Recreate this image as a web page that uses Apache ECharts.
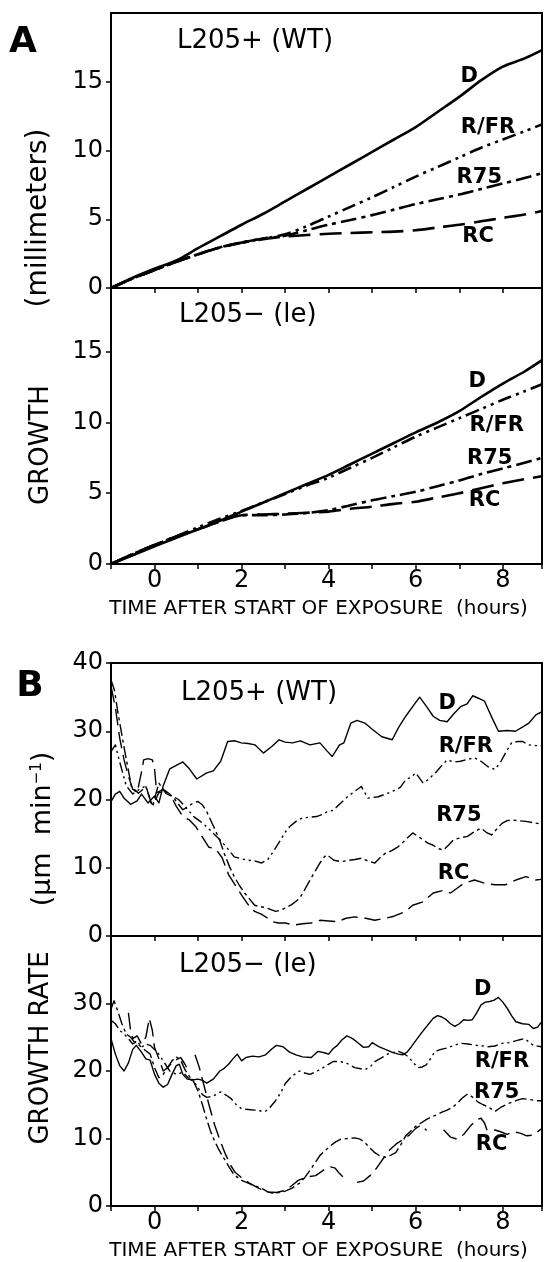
<!DOCTYPE html>
<html><head><meta charset="utf-8">
<script src="https://cdn.jsdelivr.net/npm/echarts@6/dist/echarts.min.js"></script>
<style>html,body{margin:0;padding:0;background:#fff}#c{width:545px;height:1262px}</style>
</head><body><div id="c"></div><script>
// ---- tick labels ----
const xLabelHours = [0, 2, 4, 6, 8];
const xAxisTitle = 'TIME AFTER START OF EXPOSURE  (hours)';

// ---- Panel A top: L205+ (WT) growth (mm) ----
const aTopD = [[-1,0],[-0.5,0.75],[0,1.4],[0.5,2.0],[1,2.9],[1.5,3.75],[2,4.6],[2.5,5.4],[3,6.3],[3.5,7.2],[4,8.1],[4.5,9.0],[5,9.9],[5.5,10.8],[6,11.7],[6.5,12.8],[7,13.9],[7.5,15.1],[8,16.1],[8.5,16.7],[8.9,17.3]];
const aTopRFR = [[-1,0],[-0.5,0.7],[0,1.3],[0.5,1.9],[1,2.45],[1.5,2.95],[2,3.3],[2.5,3.6],[3,3.9],[3.5,4.5],[4,5.2],[4.5,5.9],[5,6.6],[5.5,7.35],[6,8.1],[6.5,8.8],[7,9.5],[7.5,10.2],[8,10.8],[8.5,11.4],[8.9,11.9]];
const aTopR75 = [[-1,0],[-0.5,0.7],[0,1.3],[0.5,1.9],[1,2.45],[1.5,2.95],[2,3.3],[2.5,3.6],[3,3.8],[3.5,4.2],[4,4.6],[4.5,4.95],[5,5.3],[5.5,5.7],[6,6.1],[6.5,6.45],[7,6.8],[7.5,7.2],[8,7.6],[8.5,8.0],[8.9,8.35]];
const aTopRC = [[-1,0],[-0.5,0.7],[0,1.3],[0.5,1.9],[1,2.45],[1.5,2.95],[2,3.3],[2.5,3.55],[3,3.75],[3.5,3.85],[4,3.95],[4.5,4.0],[5,4.05],[5.5,4.1],[6,4.2],[6.5,4.4],[7,4.6],[7.5,4.85],[8,5.1],[8.5,5.35],[8.9,5.6]];

// ---- Panel A bottom: L205- (le) growth (mm) ----
const aBotD = [[-1,0],[-0.5,0.62],[0,1.25],[0.5,1.85],[1,2.45],[1.5,3.05],[2,3.7],[2.5,4.35],[3,5.0],[3.5,5.65],[4,6.3],[4.5,7.05],[5,7.8],[5.5,8.55],[6,9.3],[6.5,10.0],[7,10.8],[7.5,11.8],[8,12.75],[8.5,13.6],[8.9,14.4]];
const aBotRFR = [[-1,0],[-0.5,0.7],[0,1.35],[0.5,1.95],[1,2.6],[1.5,3.2],[2,3.75],[2.5,4.35],[3,4.95],[3.5,5.55],[4,6.1],[4.5,6.8],[5,7.5],[5.5,8.25],[6,9.0],[6.5,9.65],[7,10.3],[7.5,10.95],[8,11.6],[8.5,12.2],[8.9,12.7]];
const aBotR75 = [[-1,0],[-0.5,0.7],[0,1.35],[0.5,1.95],[1,2.45],[1.5,3.0],[2,3.45],[2.5,3.45],[3,3.5],[3.5,3.6],[4,3.8],[4.5,4.15],[5,4.5],[5.5,4.8],[6,5.1],[6.5,5.5],[7,5.9],[7.5,6.35],[8,6.75],[8.5,7.15],[8.9,7.5]];
const aBotRC = [[-1,0],[-0.5,0.7],[0,1.35],[0.5,1.95],[1,2.45],[1.5,3.0],[2,3.45],[2.5,3.5],[3,3.55],[3.5,3.62],[4,3.7],[4.5,3.9],[5,4.05],[5.5,4.25],[6,4.4],[6.5,4.7],[7,5.0],[7.5,5.35],[8,5.7],[8.5,6.0],[8.9,6.2]];

// ---- Panel B top: L205+ (WT) growth rate (um/min) ----
const bTopD = [[-1,19.7],[-0.9,20.8],[-0.8,21.2],[-0.7,20.2],[-0.55,19.3],[-0.4,19.8],[-0.3,20.8],[-0.15,19.5],[0,20.5],[0.1,19.5],[0.2,22.0],[0.35,24.5],[0.5,25.0],[0.65,25.5],[0.8,24.5],[0.97,23.0],[1.2,23.9],[1.35,24.2],[1.52,25.6],[1.68,28.5],[1.85,28.6],[1.99,28.3],[2.15,28.2],[2.31,28.0],[2.5,26.8],[2.7,27.8],[2.86,28.75],[3.0,28.4],[3.17,28.3],[3.35,28.6],[3.57,28.0],[3.8,28.3],[3.95,27.2],[4.08,26.3],[4.25,28.0],[4.35,28.3],[4.51,31.2],[4.65,31.6],[4.83,31.2],[5.0,30.3],[5.22,29.2],[5.46,28.75],[5.6,30.5],[5.77,32.2],[5.95,33.8],[6.09,35.0],[6.25,33.6],[6.4,32.2],[6.55,31.6],[6.72,31.4],[6.88,32.6],[7.03,33.6],[7.18,34.0],[7.31,35.2],[7.45,34.8],[7.58,34.4],[7.75,32.0],[7.9,30.0],[8.1,30.1],[8.29,30.0],[8.45,30.6],[8.6,31.2],[8.76,32.4],[8.88,32.8]];
const bTopRFR = [[-1,27.0],[-0.9,28.0],[-0.8,25.5],[-0.65,22.0],[-0.5,20.8],[-0.35,21.5],[-0.2,22.0],[-0.05,19.0],[0.1,21.0],[0.25,21.2],[0.4,20.5],[0.55,20.0],[0.7,19.0],[0.9,17.5],[1.05,16.8],[1.2,16.0],[1.36,15.0],[1.52,14.0],[1.68,12.8],[1.83,11.6],[2.0,11.3],[2.15,11.1],[2.3,11.0],[2.46,10.7],[2.6,11.2],[2.7,12.1],[2.85,13.6],[3.0,15.2],[3.1,16.0],[3.25,16.8],[3.4,17.3],[3.57,17.4],[3.72,17.5],[3.85,17.8],[3.96,18.2],[4.1,18.4],[4.2,19.0],[4.43,20.4],[4.6,21.2],[4.75,21.9],[4.9,20.2],[5.14,20.4],[5.35,20.9],[5.54,21.4],[5.65,21.8],[5.77,22.9],[5.9,23.3],[6.0,23.9],[6.17,22.4],[6.3,23.0],[6.48,24.1],[6.6,25.0],[6.72,25.8],[6.88,25.5],[7.03,25.6],[7.2,25.9],[7.35,26.1],[7.5,25.6],[7.66,24.8],[7.82,24.4],[7.95,25.5],[8.06,26.8],[8.2,28.3],[8.35,28.5],[8.45,28.5],[8.6,28.0],[8.76,27.9],[8.88,27.9]];
const bTopR75 = [[-1,37.5],[-0.92,36.0],[-0.84,32.7],[-0.69,27.3],[-0.53,21.9],[-0.37,20.9],[-0.2,21.9],[-0.05,19.0],[0.1,22.4],[0.26,20.9],[0.42,20.4],[0.55,19.3],[0.65,18.5],[0.78,19.0],[0.89,19.5],[1.0,19.7],[1.1,19.2],[1.2,18.2],[1.36,16.0],[1.5,14.0],[1.6,12.1],[1.72,10.2],[1.83,8.7],[1.95,7.4],[2.07,6.3],[2.2,5.3],[2.3,4.5],[2.42,4.3],[2.54,4.2],[2.66,3.9],[2.78,3.6],[2.9,3.8],[3.0,4.1],[3.15,4.6],[3.33,5.5],[3.45,6.8],[3.57,8.2],[3.7,9.6],[3.8,10.7],[3.9,11.6],[3.96,11.9],[4.12,11.1],[4.28,10.9],[4.43,11.05],[4.6,11.2],[4.75,11.4],[4.9,11.0],[5.06,10.7],[5.2,11.6],[5.3,12.1],[5.45,12.5],[5.6,13.1],[5.75,14.0],[5.93,15.1],[6.05,14.6],[6.17,14.1],[6.28,13.6],[6.4,13.3],[6.52,12.8],[6.64,12.6],[6.75,13.3],[6.87,14.1],[7.03,14.4],[7.19,14.6],[7.35,15.3],[7.5,15.8],[7.62,15.2],[7.74,14.8],[7.85,15.6],[7.98,16.5],[8.1,16.9],[8.2,17.0],[8.35,16.9],[8.53,16.8],[8.7,16.6],[8.88,16.4]];
const bTopRC = [[-1,36.6],[-0.9,33.5],[-0.8,29.0],[-0.7,25.8],[-0.6,23.4],[-0.5,21.5],[-0.4,21.0],[-0.3,24.0],[-0.25,25.8],[-0.15,26.0],[-0.05,25.8],[0.0,24.5],[0.05,21.0],[0.2,21.5],[0.35,20.8],[0.5,19.0],[0.65,17.5],[0.8,17.0],[0.95,16.0],[1.1,14.5],[1.25,13.0],[1.4,12.8],[1.55,11.5],[1.7,9.0],[1.85,7.5],[2.0,6.0],[2.15,4.6],[2.3,3.6],[2.45,3.2],[2.6,2.6],[2.7,2.1],[2.85,1.9],[3.0,1.9],[3.2,1.6],[3.4,1.8],[3.6,1.9],[3.8,2.3],[4.0,2.2],[4.2,2.1],[4.4,2.6],[4.6,2.8],[4.85,2.6],[5.06,2.3],[5.3,2.6],[5.5,2.9],[5.77,3.6],[5.93,4.5],[6.17,5.0],[6.4,6.3],[6.64,6.7],[6.8,6.3],[6.95,7.0],[7.1,7.7],[7.35,8.2],[7.6,7.7],[7.82,7.5],[8.06,7.5],[8.3,8.2],[8.53,8.7],[8.76,8.2],[8.88,8.3]];

// ---- Panel B bottom: L205- (le) growth rate (um/min) ----
const bBotD = [[-1,24.8],[-0.9,22.5],[-0.8,20.8],[-0.7,20.0],[-0.6,21.2],[-0.5,23.2],[-0.42,23.8],[-0.3,22.8],[-0.2,21.8],[-0.1,21.6],[0.0,19.5],[0.1,18.2],[0.2,17.6],[0.3,18.0],[0.4,19.5],[0.5,20.8],[0.57,21.0],[0.65,19.5],[0.75,18.8],[0.9,18.7],[1.0,18.8],[1.1,18.6],[1.2,18.2],[1.35,18.8],[1.5,20.0],[1.6,20.4],[1.7,21.0],[1.8,21.8],[1.9,22.5],[2.0,21.5],[2.1,22.0],[2.25,22.2],[2.4,22.1],[2.55,22.4],[2.7,23.3],[2.8,23.8],[2.95,23.6],[3.1,22.8],[3.25,22.4],[3.4,22.1],[3.6,22.0],[3.75,22.9],[3.9,22.7],[4.0,22.5],[4.1,23.3],[4.2,23.8],[4.3,24.6],[4.42,25.2],[4.55,24.8],[4.65,24.3],[4.8,23.5],[4.92,23.6],[5.0,24.2],[5.15,23.6],[5.3,23.2],[5.45,22.8],[5.6,22.5],[5.7,22.4],[5.8,22.8],[5.9,23.6],[6.0,24.5],[6.15,25.8],[6.3,27.0],[6.4,27.8],[6.5,28.2],[6.6,28.0],[6.7,27.6],[6.8,27.0],[6.9,26.6],[7.0,27.0],[7.1,27.6],[7.2,27.5],[7.3,27.6],[7.4,28.6],[7.5,29.8],[7.6,30.2],[7.7,30.3],[7.8,30.5],[7.9,30.9],[8.0,30.2],[8.1,29.3],[8.2,28.2],[8.3,27.3],[8.45,27.0],[8.6,26.9],[8.7,26.3],[8.8,26.5],[8.88,27.2]];
const bBotRFR = [[-1,27.5],[-0.9,27.0],[-0.8,26.0],[-0.7,25.5],[-0.6,24.8],[-0.5,24.0],[-0.4,24.5],[-0.3,23.5],[-0.2,24.0],[-0.1,23.8],[0.0,23.2],[0.1,22.5],[0.2,21.5],[0.35,20.0],[0.5,19.5],[0.65,19.8],[0.8,18.8],[0.9,18.5],[1.0,17.5],[1.1,16.5],[1.2,16.1],[1.35,16.3],[1.52,16.9],[1.65,16.4],[1.76,15.9],[1.88,15.0],[2.0,14.4],[2.15,14.3],[2.3,14.2],[2.54,14.0],[2.65,14.6],[2.78,15.6],[2.9,16.8],[3.0,18.1],[3.15,19.2],[3.33,20.0],[3.45,19.7],[3.57,19.5],[3.7,19.9],[3.8,20.2],[3.95,20.8],[4.1,21.4],[4.25,21.4],[4.4,21.2],[4.6,20.5],[4.83,20.2],[4.95,20.6],[5.06,21.4],[5.2,21.9],[5.38,22.6],[5.6,22.9],[5.72,22.6],[5.83,22.1],[5.95,21.2],[6.05,20.5],[6.15,20.6],[6.24,20.9],[6.35,21.9],[6.44,22.9],[6.58,23.2],[6.72,23.4],[6.88,23.8],[7.03,24.1],[7.2,24.0],[7.38,23.8],[7.55,23.7],[7.66,23.6],[7.82,23.7],[7.98,24.1],[8.15,24.2],[8.37,24.6],[8.5,24.8],[8.6,24.3],[8.7,23.8],[8.88,23.6]];
const bBotR75 = [[-1,29.2],[-0.93,30.4],[-0.85,29.0],[-0.75,27.0],[-0.65,25.5],[-0.55,25.0],[-0.45,24.2],[-0.35,23.8],[-0.2,23.0],[-0.1,22.5],[0.0,20.5],[0.1,19.0],[0.2,19.5],[0.3,20.5],[0.4,21.5],[0.5,22.1],[0.6,21.6],[0.7,20.2],[0.8,19.2],[0.9,18.4],[1.0,17.0],[1.1,15.0],[1.2,12.8],[1.28,11.2],[1.36,9.9],[1.48,8.3],[1.6,7.0],[1.72,5.7],[1.83,4.6],[2.0,3.8],[2.15,3.4],[2.3,3.0],[2.46,2.6],[2.6,2.1],[2.7,1.9],[2.85,2.0],[3.0,2.2],[3.15,2.6],[3.33,3.4],[3.45,4.2],[3.57,5.3],[3.7,6.5],[3.8,7.5],[3.92,8.2],[4.04,8.9],[4.16,9.5],[4.28,9.9],[4.45,10.0],[4.6,10.1],[4.72,9.9],[4.83,9.4],[4.95,8.6],[5.06,7.9],[5.18,7.4],[5.3,7.2],[5.42,7.5],[5.54,7.9],[5.65,9.0],[5.77,10.4],[5.9,11.2],[6.0,11.8],[6.12,12.3],[6.24,12.8],[6.36,13.2],[6.48,13.5],[6.6,13.9],[6.72,14.2],[6.84,14.6],[6.95,15.2],[7.07,16.0],[7.19,16.6],[7.31,16.1],[7.43,15.4],[7.55,15.0],[7.66,14.7],[7.82,14.0],[7.95,14.6],[8.13,15.2],[8.3,15.6],[8.45,15.9],[8.6,15.8],[8.76,15.6],[8.88,15.6]];
const bBotRC = [[-0.6,28.6],[-0.55,26.0],[-0.5,24.8],[-0.4,25.2],[-0.3,24.0],[-0.2,25.0],[-0.12,27.8],[-0.05,26.0],[0.0,23.5],[0.1,21.8],[0.2,20.0],[0.3,20.5],[0.45,21.5],[0.6,22.0],[0.7,21.0],[0.78,20.0],null,[0.93,22.4],[1.03,20.5],[1.13,18.0],[1.25,15.0],[1.38,12.0],[1.5,9.8],[1.62,7.8],[1.75,6.0],[1.85,5.0],[2.0,4.2],[2.2,3.3],[2.4,2.6],[2.6,2.1],[2.8,2.0],[3.0,2.3],[3.15,3.0],[3.3,3.8],[3.5,4.3],[3.7,4.5],[3.9,5.4],[4.05,5.8],[4.15,5.6],[4.25,4.8],[4.38,4.0],null,[4.65,3.5],[4.8,3.7],[4.95,4.5],[5.1,5.6],[5.25,7.0],[5.4,8.3],[5.55,9.2],[5.7,9.8],[5.85,10.5],[6.0,11.5],[6.12,12.0],[6.25,11.2],null,[6.64,11.3],[6.8,10.2],[6.95,9.9],[7.1,10.6],[7.25,11.8],[7.4,12.8],[7.5,13.0],[7.58,12.3],[7.65,11.0],null,[7.8,11.3],[7.95,11.0],[8.1,10.6],[8.25,11.0],[8.4,10.8],[8.55,10.4],[8.7,10.5],[8.88,11.4]];

// ---- curve labels [hours, value, text] ----
const labAtop = [[7.23,15.4,'D'],[7.66,11.7,'R/FR'],[7.46,8.05,'R75'],[7.43,3.76,'RC']];
const labAbot = [[7.41,12.9,'D'],[7.86,9.8,'R/FR'],[7.7,7.46,'R75'],[7.58,4.5,'RC']];
const labBtop = [[6.72,34.1,'D'],[7.15,27.8,'R/FR'],[6.99,17.6,'R75'],[6.87,9.2,'RC']];
const labBbot = [[7.54,32.0,'D'],[7.98,21.4,'R/FR'],[7.86,16.85,'R75'],[7.74,9.15,'RC']];

const FONT = 'DejaVu Sans';
const chart = echarts.init(document.getElementById('c'), null, {renderer: 'canvas'});

const grids = [
  {left: 111, width: 431, top: 13, height: 275},
  {left: 111, width: 431, top: 288, height: 276},
  {left: 111, width: 431, top: 663, height: 273},
  {left: 111, width: 431, top: 936, height: 276}
].map(g => Object.assign(g, {show: true, borderColor: '#000', borderWidth: 2, backgroundColor: 'transparent', containLabel: false}));

const yCfg = [
  {max: 20, interval: 5, showMax: false},
  {max: 19.5, interval: 5, showMax: false},
  {max: 40, interval: 10, showMax: true},
  {max: 40, interval: 10, showMax: false}
];

const xAxes = grids.map((g, i) => ({
  type: 'value', gridIndex: i, min: -1, max: 8.9, interval: 1,
  axisLine: {show: true, onZero: false, lineStyle: {color: '#000', width: 2}},
  axisTick: {show: true, inside: false, length: 5, lineStyle: {color: '#000', width: 1.5}},
  splitLine: {show: false},
  axisLabel: {show: i === 1 || i === 3, margin: 5, color: '#000', fontFamily: FONT, fontSize: 24,
    formatter: v => xLabelHours.indexOf(v) >= 0 ? String(v) : ''},
  name: (i === 1 || i === 3) ? xAxisTitle : '',
  nameLocation: 'middle', nameGap: 35,
  nameTextStyle: {color: '#000', fontFamily: FONT, fontSize: 20, padding: [0, 16, 0, 0]}
}));

const yAxes = yCfg.map((c, i) => ({
  type: 'value', gridIndex: i, min: 0, max: c.max, interval: c.interval,
  axisLine: {show: true, onZero: false, lineStyle: {color: '#000', width: 2}},
  axisTick: {show: true, inside: false, length: 5, lineStyle: {color: '#000', width: 1.5}},
  splitLine: {show: false},
  axisLabel: {margin: 8, color: '#000', fontFamily: FONT, fontSize: 24, showMaxLabel: c.showMax, showMinLabel: true}
}));

function styleFor(kind, thick) {
  const w = thick ? 2.6 : 1.4;
  const k = thick ? 1 : 0.75;
  const pats = {
    D: 'solid',
    RFR: [14*k, 5*k, 3*k, 5*k, 3*k, 5*k],
    R75: [16*k, 5*k, 4*k, 5*k],
    RC: [22*k, 9*k]
  };
  return {color: '#000', width: w, type: pats[kind], cap: 'butt', join: 'round'};
}
function lineSeries(idx, name, kind, data, thick) {
  return {type: 'line', name, xAxisIndex: idx, yAxisIndex: idx, data, showSymbol: false, symbol: 'none',
    smooth: thick ? 0.3 : false, connectNulls: false, lineStyle: styleFor(kind, thick), silent: true, z: 3};
}
function labelSeries(idx, data) {
  return {type: 'scatter', xAxisIndex: idx, yAxisIndex: idx, symbol: 'circle', symbolSize: 0,
    itemStyle: {color: '#000', opacity: 1}, silent: true, z: 5,
    data: data.map(d => ({value: [d[0], d[1]], name: d[2]})),
    label: {show: true, position: 'inside', formatter: p => p.name, color: '#000', opacity: 1,
      textBorderWidth: 0, fontFamily: FONT, fontSize: 21, fontWeight: 'bold'}};
}

const series = [
  lineSeries(0, 'D', 'D', aTopD, true), lineSeries(0, 'R/FR', 'RFR', aTopRFR, true),
  lineSeries(0, 'R75', 'R75', aTopR75, true), lineSeries(0, 'RC', 'RC', aTopRC, true),
  lineSeries(1, 'D', 'D', aBotD, true), lineSeries(1, 'R/FR', 'RFR', aBotRFR, true),
  lineSeries(1, 'R75', 'R75', aBotR75, true), lineSeries(1, 'RC', 'RC', aBotRC, true),
  lineSeries(2, 'D', 'D', bTopD, false), lineSeries(2, 'R/FR', 'RFR', bTopRFR, false),
  lineSeries(2, 'R75', 'R75', bTopR75, false), lineSeries(2, 'RC', 'RC', bTopRC, false),
  lineSeries(3, 'D', 'D', bBotD, false), lineSeries(3, 'R/FR', 'RFR', bBotRFR, false),
  lineSeries(3, 'R75', 'R75', bBotR75, false), lineSeries(3, 'RC', 'RC', bBotRC, false),
  labelSeries(0, labAtop), labelSeries(1, labAbot), labelSeries(2, labBtop), labelSeries(3, labBbot)
];

function txt(x, y, text, font, opts) {
  const o = opts || {};
  return {type: 'text', x, y, rotation: o.rot || 0, silent: true, z: 10,
    style: Object.assign({text, font, fill: '#000',
      align: o.align || 'center', textAlign: o.align || 'center',
      verticalAlign: 'middle', textVerticalAlign: 'middle'}, o.extra || {})};
}
const F = (s, w) => (w ? w + ' ' : '') + s + 'px DejaVu Sans';

const graphic = [
  txt(23, 43, 'A', F(36, 'bold')),
  txt(30, 687, 'B', F(36, 'bold')),
  txt(177, 41, 'L205+ (WT)', F(26), {align: 'left'}),
  txt(179, 315, 'L205\u2212 (le)', F(26), {align: 'left'}),
  txt(181, 693, 'L205+ (WT)', F(26), {align: 'left'}),
  txt(179, 965, 'L205\u2212 (le)', F(26), {align: 'left'}),
  txt(39, 218, '(millimeters)', F(28), {rot: Math.PI / 2}),
  txt(41, 445, 'GROWTH', F(26), {rot: Math.PI / 2}),
  txt(43, 829, '(\u03bcm  min{s|\u22121})', F(27), {rot: Math.PI / 2,
    extra: {rich: {s: {font: F(15), verticalAlign: 'top', fill: '#000'}}}}),
  txt(41, 1048, 'GROWTH RATE', F(26), {rot: Math.PI / 2})
];

chart.setOption({
  animation: false,
  backgroundColor: '#fff',
  grid: grids,
  xAxis: xAxes,
  yAxis: yAxes,
  series,
  graphic
});
</script></body></html>
